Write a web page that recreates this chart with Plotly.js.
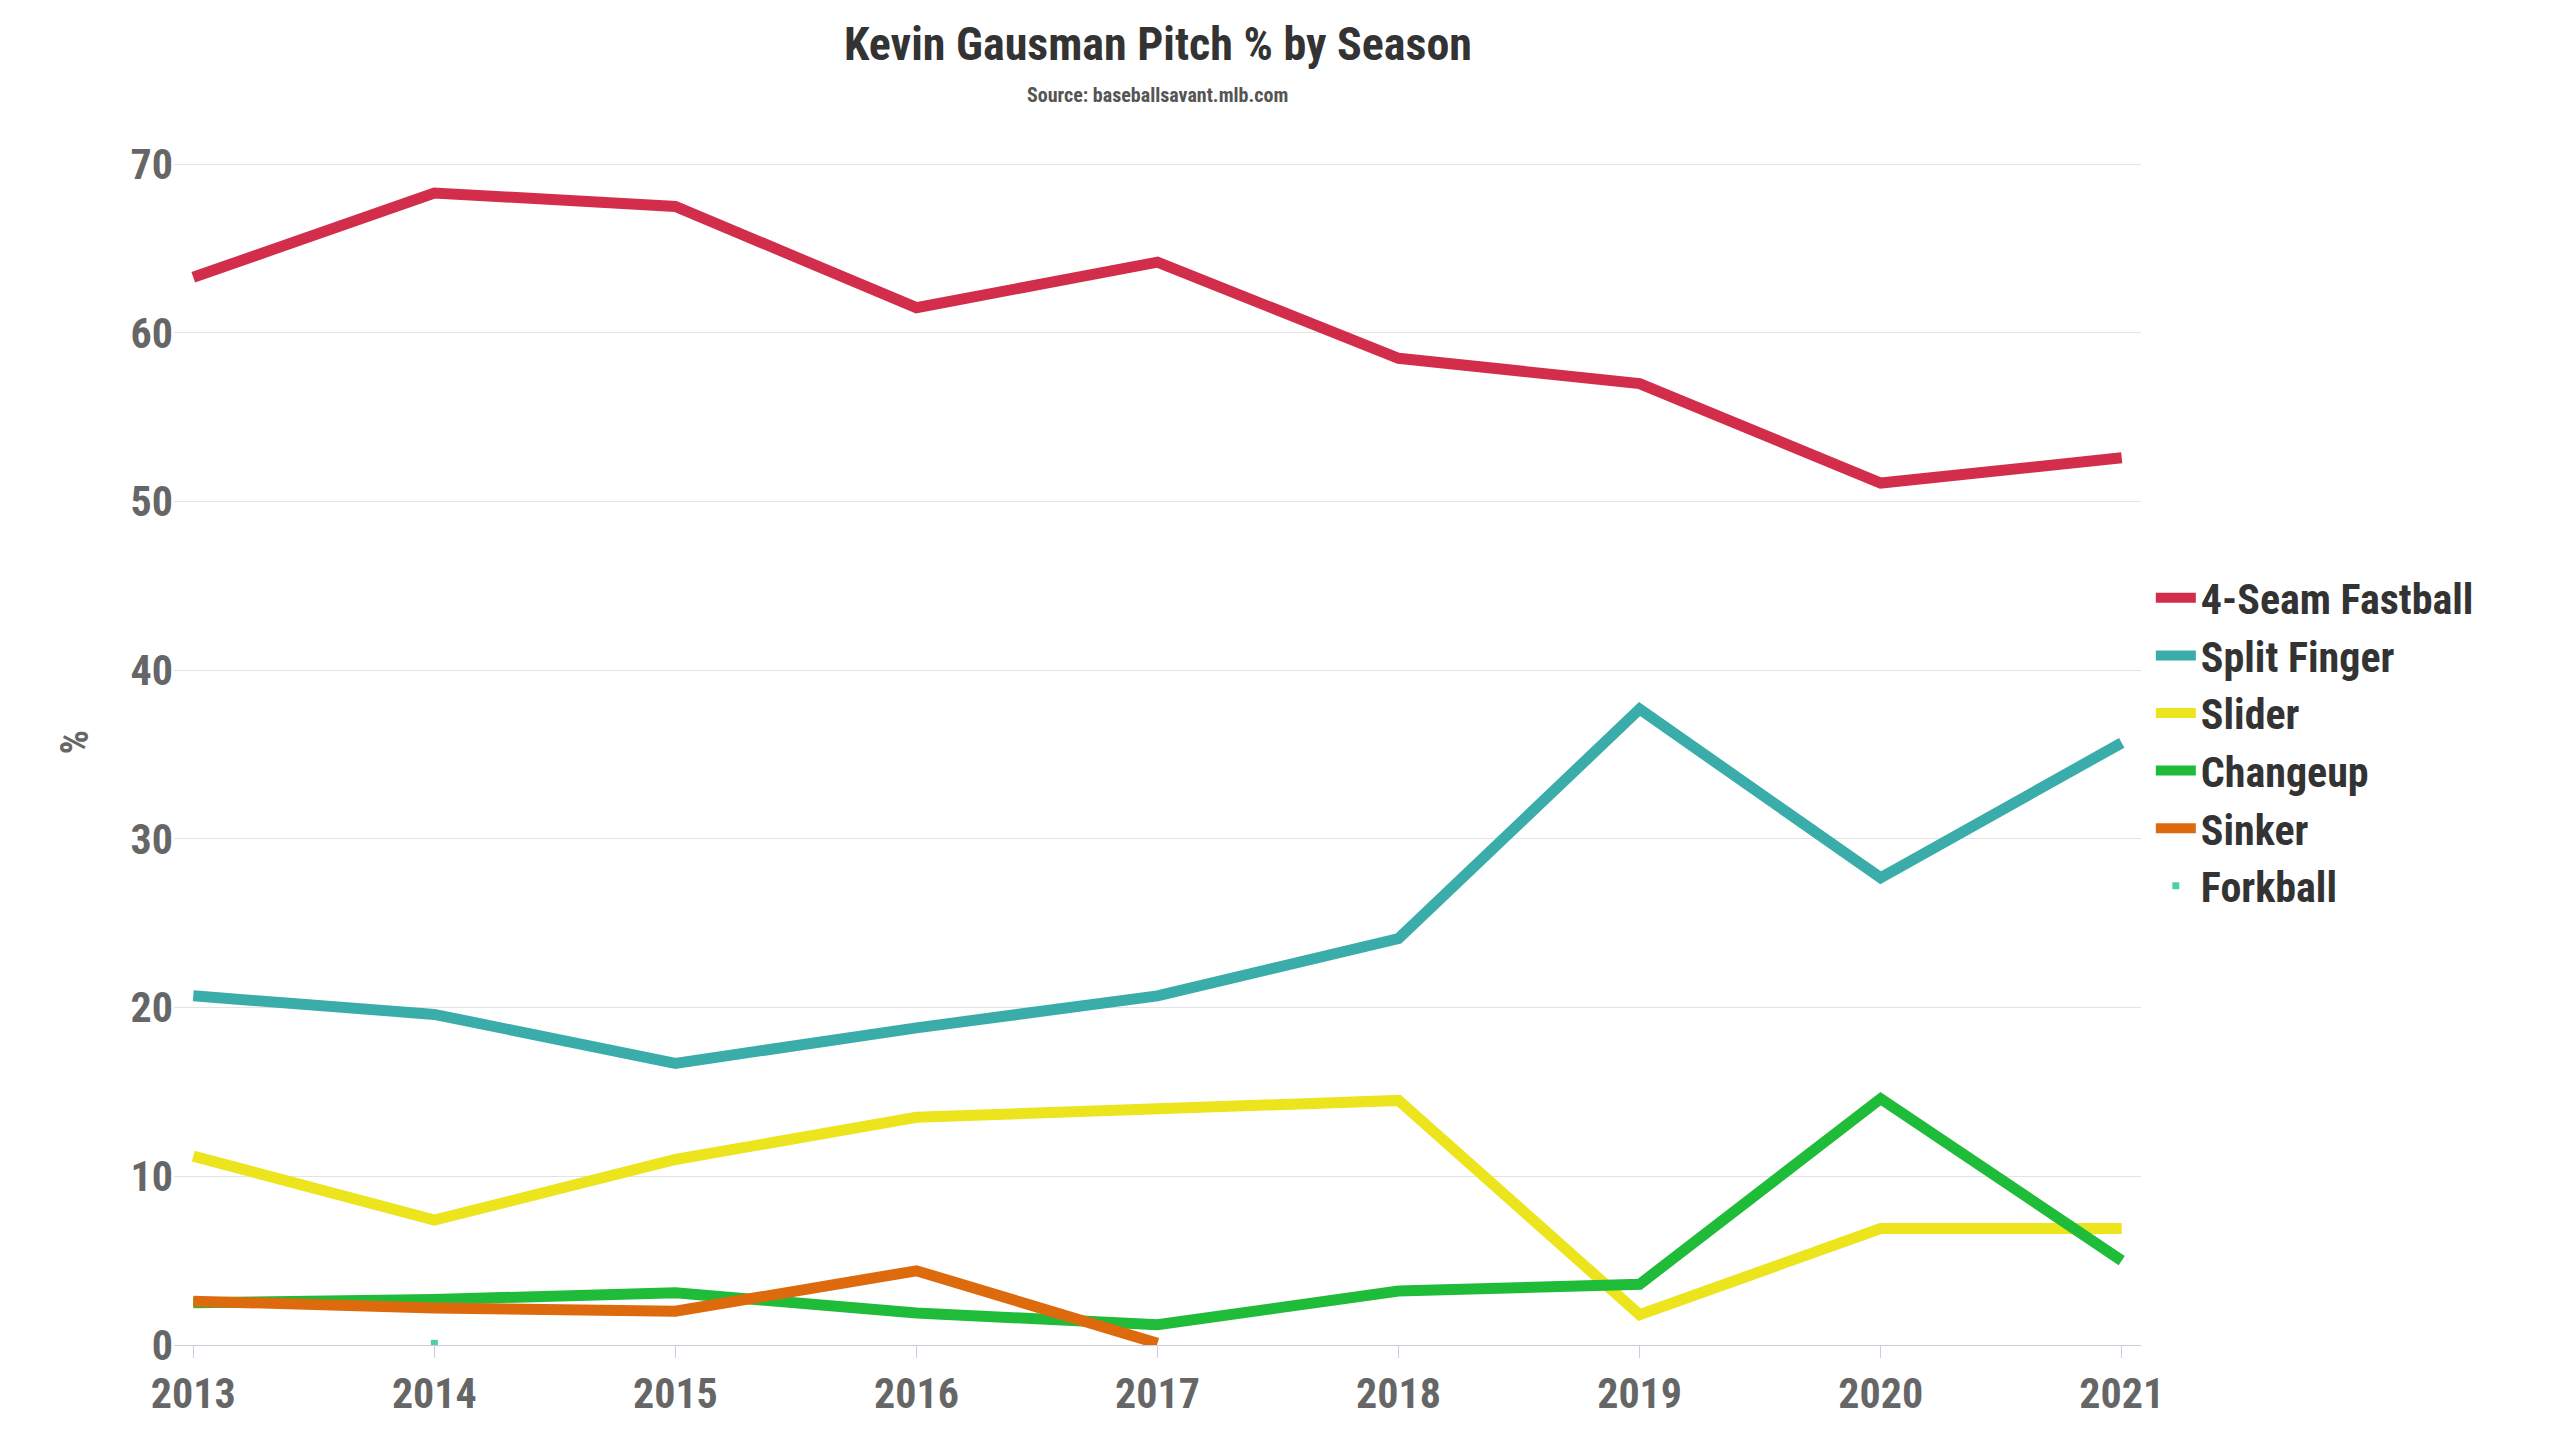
<!DOCTYPE html>
<html><head><meta charset="utf-8">
<script src="https://cdn.plot.ly/plotly-3.0.1.min.js"></script>
<style>body{margin:0;background:#fff}#chart{width:2560px;height:1440px}</style>
</head><body><div id="chart"></div>
<script>
var seasons = [2013, 2014, 2015, 2016, 2017, 2018, 2019, 2020, 2021];
var fastball = [63.3, 68.3, 67.5, 61.5, 64.2, 58.5, 57.0, 51.1, 52.6];
var splitter = [20.7, 19.6, 16.7, 18.8, 20.7, 24.1, 37.7, 27.7, 35.7];
var slider = [11.2, 7.4, 11.0, 13.5, 14.0, 14.5, 1.8, 6.9, 6.9];
var changeup = [2.5, 2.7, 3.1, 1.9, 1.2, 3.2, 3.6, 14.6, 5.0];
var sinkerYears = [2013, 2014, 2015, 2016, 2017];
var sinker = [2.6, 2.2, 2.0, 4.4, 0.1];
var forkYears = [2014];
var forkball = [0.1];

var font = 'Roboto Condensed, Liberation Sans Narrow, Roboto, sans-serif';
function line(name, x, y, color) {
	return {type: 'scatter', mode: 'lines', name: '<b>' + name + '</b>', x: x, y: y,
		line: {color: color, width: 11}};
}
var data = [
	line('4-Seam Fastball', seasons, fastball, '#d22e4b'),
	line('Split Finger', seasons, splitter, '#3aaca9'),
	line('Slider', seasons, slider, '#ece41c'),
	line('Changeup', seasons, changeup, '#1fbc3a'),
	line('Sinker', sinkerYears, sinker, '#dd6a0c'),
	{type: 'scatter', mode: 'markers', name: '<b>Forkball</b>', x: forkYears, y: forkball,
		marker: {color: '#4fcfa8', size: 7, symbol: 'square'}}
];
var layout = {
	showlegend: true,
	legend: {x: 1.005, xanchor: 'left', y: 0.5, yanchor: 'middle', font: {family: font, size: 42, color: '#333'},
		itemwidth: 40, tracegroupgap: 4},
	margin: {l: 174, r: 419, t: 139, b: 95},
	annotations: [
		{text: '<b>Kevin Gausman Pitch % by Season</b>', xref: 'paper', yref: 'paper', x: 0.5, y: 1.0788,
			yanchor: 'middle', showarrow: false, font: {family: font, size: 46, color: '#333'}},
		{text: '<b>Source: baseballsavant.mlb.com</b>', xref: 'paper', yref: 'paper', x: 0.5, y: 1.0365,
			yanchor: 'middle', showarrow: false, font: {family: font, size: 20, color: '#555'}}
	],
	xaxis: {range: [2012.92, 2021.08], dtick: 1, showgrid: false, showline: true, linecolor: '#ccd',
		ticks: 'outside', ticklen: 12, tickcolor: '#ccd', zeroline: false,
		tickfont: {family: font, size: 42, color: '#666', weight: 'bold'}},
	yaxis: {range: [0, 71.5], dtick: 10, gridcolor: '#e3e3e3', zeroline: false,
		title: {text: '<b>%</b>', font: {family: font, size: 38, color: '#666'}, standoff: 30},
		tickfont: {family: font, size: 42, color: '#666', weight: 'bold'}},
	plot_bgcolor: '#fff', paper_bgcolor: '#fff'
};
Plotly.newPlot('chart', data, layout, {displayModeBar: false});
</script></body></html>
